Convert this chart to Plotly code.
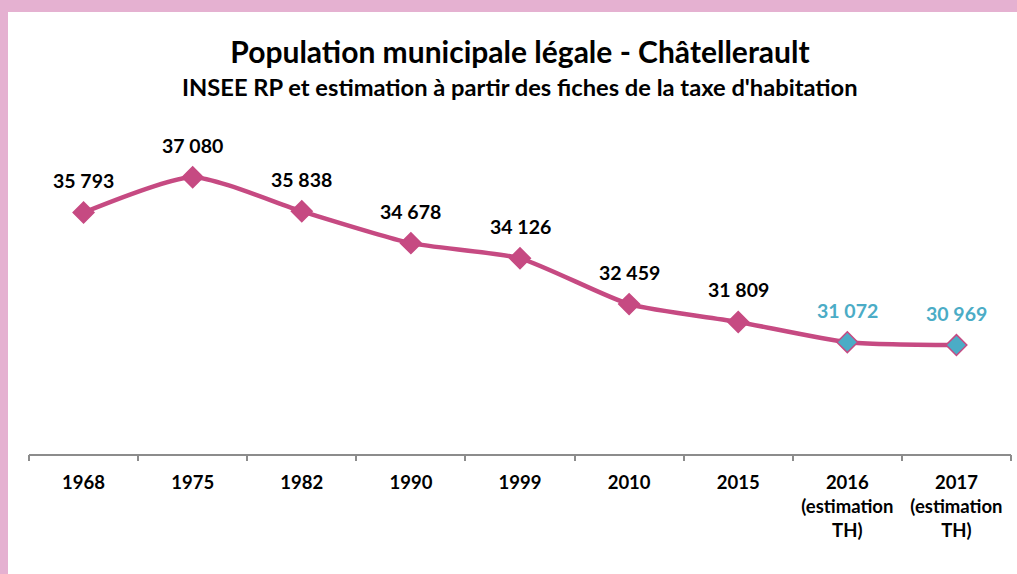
import plotly.graph_objects as go

categories = ["1968", "1975", "1982", "1990", "1999", "2010", "2015",
              "2016<br>(estimation<br>TH)", "2017<br>(estimation<br>TH)"]
population = [35793, 37080, 35838, 34678, 34126, 32459, 31809, 31072, 30969]
labels = ["35 793", "37 080", "35 838", "34 678", "34 126", "32 459", "31 809", "31 072", "30 969"]
is_estimate = [False, False, False, False, False, False, False, True, True]

PINK_LINE = "#C64A82"
BLUE = "#4BACC6"
BORDER = "#E5B1D1"
FONT = "Lato"

W, H = 1017, 574
ML, MR, MT, MB = 29, 6, 97, 120
pw = W - ML - MR
ph = H - MT - MB

idx = list(range(len(categories)))

fig = go.Figure()
fig.add_trace(go.Scatter(
    x=idx, y=population, mode="lines+markers",
    line=dict(color=PINK_LINE, width=4.5, shape="spline", smoothing=0.6),
    marker=dict(symbol="diamond", size=16,
                color=[BLUE if e else PINK_LINE for e in is_estimate],
                line=dict(color=PINK_LINE, width=1.5)),
    hoverinfo="skip", showlegend=False, cliponaxis=False,
))

for i, v, t, e in zip(idx, population, labels, is_estimate):
    fig.add_annotation(x=i, y=v, text="<b>%s</b>" % t, showarrow=False,
                       yshift=32, font=dict(family=FONT, size=19.5, color=BLUE if e else "#000000"))

def px_x(p):
    return (p - ML) / pw
def px_y(p):
    return 1 - (p - MT) / ph

# pink page border
fig.add_shape(type="rect", xref="paper", yref="paper", layer="below",
              x0=px_x(0), x1=px_x(W), y0=px_y(0), y1=px_y(12),
              fillcolor=BORDER, line=dict(width=0))
fig.add_shape(type="rect", xref="paper", yref="paper", layer="below",
              x0=px_x(0), x1=px_x(8), y0=px_y(0), y1=px_y(H),
              fillcolor=BORDER, line=dict(width=0))

fig.add_annotation(xref="paper", yref="paper", x=px_x(520), y=px_y(87),
                   xanchor="center", yanchor="middle", showarrow=False,
                   text="<b>INSEE RP et estimation à partir des fiches de la taxe d'habitation</b>",
                   font=dict(family=FONT, size=23.7, color="#000000"))

fig.update_layout(
    width=W, height=H,
    margin=dict(l=ML, r=MR, t=MT, b=MB),
    paper_bgcolor="white", plot_bgcolor="white",
    title=dict(
        text="<b>Population municipale légale - Châtellerault</b>",
        x=520 / W, xanchor="center", y=1 - 52 / H, yanchor="middle",
        font=dict(family=FONT, size=30, color="#000000")),
    xaxis=dict(range=[-0.5, 8.5], showgrid=False, zeroline=False,
               tickmode="array", tickvals=idx,
               ticktext=["<b>%s</b>" % c for c in categories],
               showline=True, linecolor="#8C8C8C", linewidth=2,
               ticks="", tickfont=dict(family=FONT, size=18.5, color="#000000"),
               ticklabelstandoff=11, fixedrange=True),
    xaxis2=dict(overlaying="x", range=[-0.5, 8.5], showgrid=False, zeroline=False,
                tickmode="array", tickvals=[i - 0.5 for i in idx] + [len(idx) - 0.5],
                showticklabels=False, ticks="outside", ticklen=6,
                tickcolor="#8C8C8C", tickwidth=1.5, side="bottom", fixedrange=True),
    yaxis=dict(range=[27000, 40000], visible=False, fixedrange=True),
)
# dummy trace to activate the tick-mark axis
fig.add_trace(go.Scatter(x=[None], y=[None], xaxis="x2", showlegend=False, hoverinfo="skip"))

fig.write_html("out.html", config={"displayModeBar": False},
               post_script="document.body.style.margin='0';document.body.style.padding='0';")
